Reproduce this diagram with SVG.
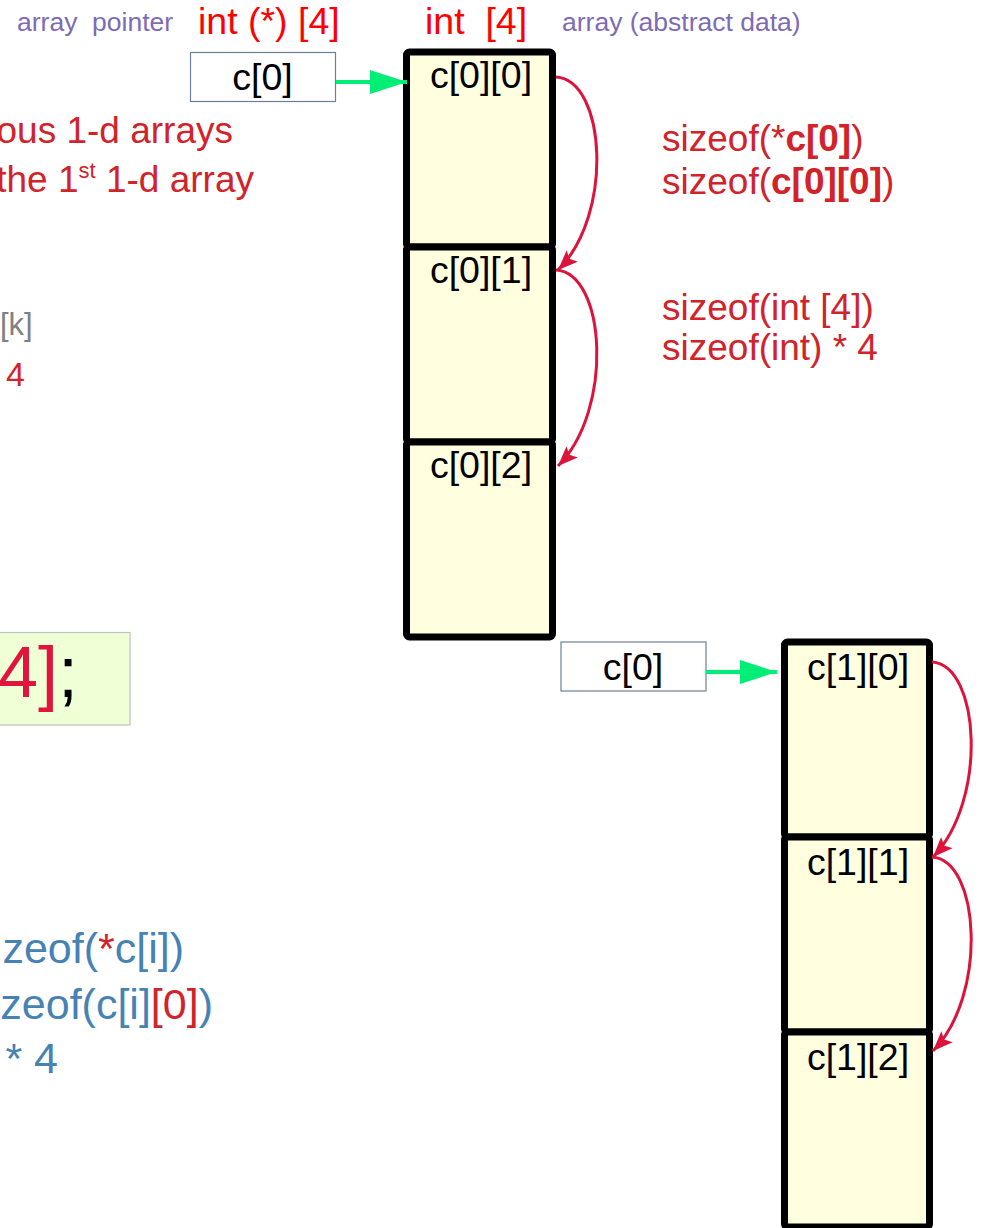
<svg xmlns="http://www.w3.org/2000/svg" width="990" height="1228" viewBox="0 0 990 1228">
<style>
text{font-family:"Liberation Sans",Arial,sans-serif}
.cell{fill:#ffffe0;stroke:#000;stroke-width:7}
.lbl{font-size:37.5px;fill:#000;text-anchor:middle}
.ptr{fill:#fff;stroke:#6d7f99;stroke-width:1.2}
.purple{font-size:26.5px;fill:#7d6bb5}
.red{font-size:37.5px;fill:#ff0000}
.dred{font-size:37px;fill:#d2232a}
.blue{font-size:43px;fill:#4682b4}
.g{stroke:#00ee76;stroke-width:4;fill:none}
.r{stroke:#dc143c;stroke-width:3;fill:none}
</style>
<defs>
<marker id="ga" markerUnits="userSpaceOnUse" markerWidth="38" markerHeight="26" refX="37" refY="12" orient="auto"><path d="M0,0 L37,12 L0,24 z" fill="#00ee76"/></marker>
<marker id="ra" markerUnits="userSpaceOnUse" markerWidth="22" markerHeight="16" refX="20" refY="8" orient="auto"><path d="M0,0 L20,8 L0,16 L4,8 z" fill="#dc143c"/></marker>
</defs>

<g id="labels">
<text class="purple" x="17" y="31" xml:space="preserve">array  pointer</text>
<text class="red" x="198" y="34" xml:space="preserve">int (*) [4]</text>
<text class="red" x="425" y="34" xml:space="preserve">int  [4]</text>
<text class="purple" x="562" y="31">array (abstract data)</text>
<text class="dred" x="233" y="143" text-anchor="end">ous 1-d arrays</text>
<text class="dred" x="254" y="192" text-anchor="end">the 1<tspan font-size="22" dy="-14">st</tspan><tspan dy="14"> 1-d array</tspan></text>
<text x="0" y="335" font-size="31" fill="#808080">[k]</text>
<text x="6" y="386" font-size="34" fill="#d2232a">4</text>
<text class="dred" x="662" y="151">sizeof(*<tspan font-weight="bold">c[0]</tspan>)</text>
<text class="dred" x="662" y="194">sizeof(<tspan font-weight="bold">c[0][0]</tspan>)</text>
<text class="dred" x="662" y="320">sizeof(int [4])</text>
<text class="dred" x="662" y="360">sizeof(int) * 4</text>
<text class="blue" x="184" y="963" text-anchor="end">zeof(<tspan fill="#d2232a">*</tspan>c[i])</text>
<text class="blue" x="213" y="1019" text-anchor="end">zeof(c[i]<tspan fill="#d2232a">[0]</tspan>)</text>
<text class="blue" x="58" y="1073" text-anchor="end">* 4</text>
</g>

<g id="code">
<rect x="-10" y="632.5" width="140" height="92.5" fill="#efffd6" stroke="#c0c0c0" stroke-width="1.2"/>
<text x="78" y="697" font-size="72" text-anchor="end" fill="#000"><tspan fill="#e0143c">4]</tspan>;</text>
</g>

<g id="ptr0">
<rect class="ptr" x="190.5" y="52.5" width="145" height="49"/>
<text class="lbl" x="262.5" y="89.5">c[0]</text>
</g>
<g id="ptr1">
<rect class="ptr" x="561" y="642" width="145" height="49"/>
<text class="lbl" x="633" y="679.5">c[0]</text>
</g>

<g id="c00"><rect class="cell" x="406.5" y="52" width="146" height="195" rx="3"/><text class="lbl" x="481" y="88">c[0][0]</text></g>
<g id="c01"><rect class="cell" x="406.5" y="247" width="146" height="195" rx="3"/><text class="lbl" x="481" y="283">c[0][1]</text></g>
<g id="c02"><rect class="cell" x="406.5" y="442" width="146" height="195" rx="3"/><text class="lbl" x="481" y="478">c[0][2]</text></g>

<g id="c10"><rect class="cell" x="784.5" y="642" width="145" height="195" rx="3"/><text class="lbl" x="858" y="679.5">c[1][0]</text></g>
<g id="c11"><rect class="cell" x="784.5" y="837" width="145" height="195" rx="3"/><text class="lbl" x="858" y="874.5">c[1][1]</text></g>
<g id="c12"><rect class="cell" x="784.5" y="1032" width="145" height="195" rx="3"/><text class="lbl" x="858" y="1069.5">c[1][2]</text></g>

<g id="connectors">
<line class="g" x1="336" y1="82" x2="407" y2="82" marker-end="url(#ga)"/>
<line class="g" x1="706" y1="672" x2="777" y2="672" marker-end="url(#ga)"/>
<path class="r" d="M556,77 C606,80 614,215 558,270" marker-end="url(#ra)"/>
<path class="r" d="M556,270 C606,273 614,410 558,466" marker-end="url(#ra)"/>
<path class="r" d="M932,662 C980,665 988,800 933,857" marker-end="url(#ra)"/>
<path class="r" d="M932,857 C980,860 988,995 933,1051" marker-end="url(#ra)"/>
</g>
</svg>
